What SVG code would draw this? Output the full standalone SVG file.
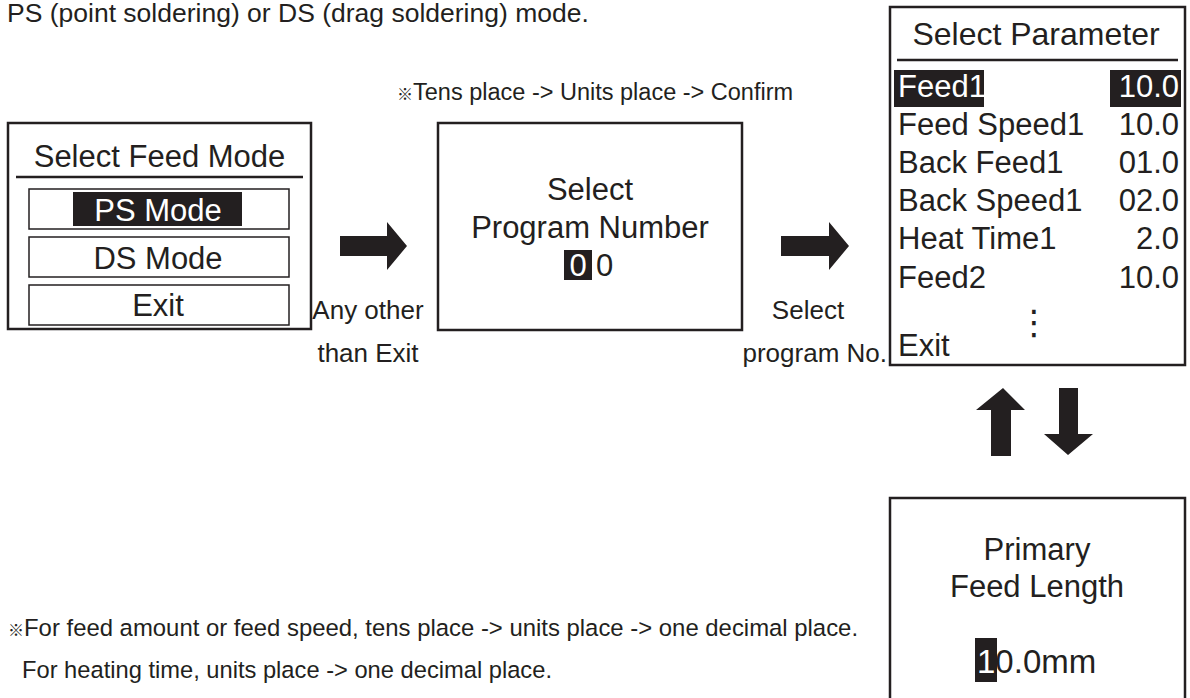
<svg xmlns="http://www.w3.org/2000/svg" width="1190" height="698" viewBox="0 0 1190 698">
<style>
text{font-family:"Liberation Sans",Arial,"Noto Sans CJK JP",sans-serif;fill:#231f20}
.big{font-size:31px}
.lbl{font-size:26px}
.mid{text-anchor:middle}
.end{text-anchor:end}
.inv{fill:#fff}
.ref{font-size:16px}
.outer{fill:#fff;stroke:#231f20;stroke-width:2.5}
.inner{fill:none;stroke:#231f20;stroke-width:1.5}
.hl{fill:#231f20}
.arrow{fill:#231f20}
.rule{stroke:#231f20;stroke-width:2.5}
</style>
<rect width="1190" height="698" fill="#fff"/>
<text x="7" y="22" style="font-size:26.5px">PS (point soldering) or DS (drag soldering) mode.</text>
<text x="397" y="100" style="font-size:23.5px"><tspan class="ref">※</tspan>Tens place -&gt; Units place -&gt; Confirm</text>

<g id="feed-mode">
<rect class="outer" x="8" y="123" width="303" height="206"/>
<text class="big mid" x="159.5" y="167">Select Feed Mode</text>
<line class="rule" x1="16" y1="177" x2="303" y2="177"/>
<rect class="inner" x="29" y="189" width="260" height="40"/>
<rect class="hl" x="73" y="192" width="169" height="34"/>
<text class="big mid inv" x="158" y="221">PS Mode</text>
<rect class="inner" x="29" y="237" width="260" height="40"/>
<text class="big mid" x="158" y="269">DS Mode</text>
<rect class="inner" x="29" y="285" width="260" height="40"/>
<text class="big mid" x="158" y="316">Exit</text>
</g>

<g id="program-number">
<rect class="outer" x="438" y="123" width="304" height="207"/>
<text class="big mid" x="590" y="200">Select</text>
<text class="big mid" x="590" y="238">Program Number</text>
<rect class="hl" x="564" y="250" width="28" height="30"/>
<text class="big mid inv" x="578" y="276">0</text>
<text class="big" x="596" y="276">0</text>
</g>

<g id="select-parameter">
<rect class="outer" x="890" y="7" width="295" height="358"/>
<text class="mid" x="1036" y="45" style="font-size:32px">Select Parameter</text>
<line class="rule" x1="897" y1="60" x2="1178" y2="60"/>
<rect class="hl" x="894" y="70" width="90" height="37"/>
<rect class="hl" x="1110" y="70" width="71" height="37"/>
<text class="big inv" x="898" y="97">Feed1</text>
<text class="big end inv" x="1179" y="97">10.0</text>
<text class="big" x="898" y="135">Feed Speed1</text>
<text class="big end" x="1179" y="135">10.0</text>
<text class="big" x="898" y="173">Back Feed1</text>
<text class="big end" x="1179" y="173">01.0</text>
<text class="big" x="898" y="211">Back Speed1</text>
<text class="big end" x="1179" y="211">02.0</text>
<text class="big" x="898" y="249">Heat Time1</text>
<text class="big end" x="1179" y="249">2.0</text>
<text class="big" x="898" y="288">Feed2</text>
<text class="big end" x="1179" y="288">10.0</text>
<text class="mid" x="1034" y="334" style="font-family:'DejaVu Sans',sans-serif;font-size:34px">⋮</text>
<text class="big" x="898" y="356">Exit</text>
</g>

<g id="feed-length">
<rect class="outer" x="890" y="498" width="295" height="220"/>
<text class="big mid" x="1037" y="560">Primary</text>
<text class="big mid" x="1037" y="597">Feed Length</text>
<rect class="hl" x="975" y="638" width="22" height="44"/>
<text x="977" y="673" style="font-size:33px"><tspan class="inv">1</tspan>0.0mm</text>
</g>

<g id="connectors">
<polygon class="arrow" points="340,236 387,236 387,222 407,246 387,270 387,256 340,256"/>
<polygon class="arrow" points="781,236 829,236 829,222 849,246 829,270 829,256 781,256"/>
<polygon class="arrow" points="1003,388 1025,410 1011,410 1011,456 991,456 991,410 976,410"/>
<polygon class="arrow" points="1059,388 1078,388 1078,434 1093,434 1068,455 1044,434 1059,434"/>
<text class="lbl mid" x="368" y="319">Any other</text>
<text class="lbl mid" x="368" y="362">than Exit</text>
<text class="lbl mid" x="808" y="319">Select</text>
<text class="lbl end" x="887" y="362">program No.</text>
</g>

<text x="8" y="636" style="font-size:23.9px"><tspan class="ref">※</tspan>For feed amount or feed speed, tens place -&gt; units place -&gt; one decimal place.</text>
<text x="22" y="678" style="font-size:23.7px">For heating time, units place -&gt; one decimal place.</text>
</svg>
